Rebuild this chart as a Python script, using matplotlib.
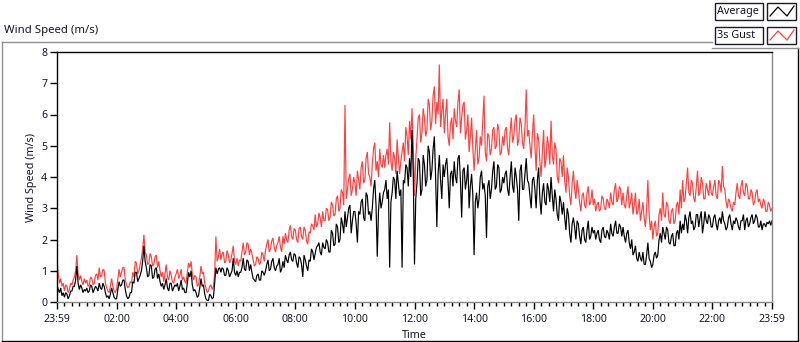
import numpy as np
import matplotlib
matplotlib.use("Agg")
import matplotlib.pyplot as plt
from matplotlib.lines import Line2D
from matplotlib.patches import Rectangle

plt.rcParams['font.family'] = ['Noto Sans', 'DejaVu Sans']

# 2.5-minute samples from 23:59 to 23:59 (next day), one row per hour
step_min = 2.5
gust = [
    1.3, 0.9, 0.6, 0.75, 0.5, 0.6, 0.35, 0.55, 0.5, 0.3, 0.4, 0.6, 0.55, 0.7, 0.8, 1.0, 1.5, 0.9, 0.7, 0.85, 0.65, 0.55, 0.75, 0.6,
    0.7, 0.5, 0.55, 0.8, 0.75, 0.55, 0.6, 0.85, 0.9, 0.7, 1.1, 0.8, 0.85, 1.05, 1.0, 0.6, 0.45, 0.35, 0.3, 0.5, 0.75, 0.5, 0.35, 0.3,
    0.4, 0.75, 1.05, 0.8, 0.95, 1.1, 1.1, 0.7, 0.55, 0.45, 0.5, 0.65, 0.6, 0.95, 0.8, 1.3, 1.25, 0.9, 1.0, 1.2, 1.4, 1.7, 2.15, 1.6,
    1.5, 1.2, 1.25, 1.55, 1.45, 1.15, 1.2, 1.45, 1.5, 1.1, 1.3, 1.0, 0.8, 0.95, 0.65, 0.9, 1.2, 0.8, 0.7, 1.0, 0.85, 0.65, 0.6, 0.8,
    0.9, 1.05, 0.75, 0.85, 1.05, 0.7, 0.8, 0.65, 0.6, 0.95, 1.25, 1.1, 1.3, 0.9, 0.7, 0.85, 0.8, 0.5, 0.55, 0.8, 1.15, 0.9, 0.95, 0.6,
    0.45, 0.3, 0.35, 0.5, 0.55, 0.4, 0.5, 0.9, 2.1, 1.3, 1.45, 1.7, 1.35, 1.55, 1.6, 1.25, 1.3, 1.65, 1.5, 1.25, 1.35, 1.55, 1.8, 1.3,
    1.2, 1.4, 1.15, 1.35, 1.3, 1.6, 1.9, 1.5, 1.6, 1.9, 1.85, 1.5, 1.7, 1.55, 1.35, 1.15, 1.2, 1.45, 1.4, 1.2, 1.25, 1.6, 1.5, 1.3,
    1.65, 1.85, 2.0, 1.6, 1.7, 1.95, 2.05, 1.75, 1.6, 1.8, 1.9, 2.1, 1.75, 1.6, 2.1, 1.85, 2.2, 2.0, 1.9, 2.3, 2.45, 2.1, 2.0, 2.35,
    2.3, 2.0, 1.9, 2.35, 2.4, 2.1, 2.0, 2.4, 2.3, 1.95, 1.85, 2.25, 2.2, 2.5, 2.45, 2.3, 2.8, 2.4, 2.5, 2.85, 2.7, 2.4, 2.9, 2.6,
    2.6, 3.0, 2.95, 2.6, 2.7, 3.2, 3.1, 2.75, 2.8, 3.3, 3.4, 2.9, 3.0, 3.6, 3.5, 3.1, 6.3, 3.3, 3.6, 3.95, 4.1, 3.4, 3.6, 4.0,
    3.8, 3.4, 4.2, 3.9, 3.6, 4.3, 4.5, 3.8, 3.9, 4.6, 4.8, 4.1, 4.0, 3.7, 4.4, 4.9, 5.1, 4.2, 4.5, 4.0, 4.9, 4.4, 4.3, 4.7,
    4.3, 4.7, 4.9, 4.4, 5.75, 4.5, 4.2, 4.8, 4.6, 4.1, 5.2, 4.6, 4.1, 4.5, 4.8, 5.1, 4.5, 5.6, 5.3, 4.7, 5.8, 5.2, 6.2, 5.0,
    3.4, 4.6, 5.2, 5.9, 6.0, 5.1, 5.4, 6.2, 5.9, 5.3, 5.5, 6.5, 6.3, 5.5, 5.8, 6.6, 6.9, 5.7, 6.4, 6.0, 7.6, 5.6, 6.1, 6.5,
    5.4, 6.0, 6.5, 5.3, 5.0, 5.7, 5.9, 5.2, 6.2, 5.8, 5.6, 6.4, 6.8, 5.4, 5.9, 6.3, 6.4, 5.2, 5.5, 6.0, 4.8, 5.3, 5.9, 4.9,
    4.2, 4.9, 5.5, 4.4, 4.6, 5.3, 5.0, 5.8, 6.6, 4.8, 4.5, 5.4, 5.3, 4.7, 4.9, 5.5, 5.6, 4.9, 5.0, 5.7, 5.5, 4.7, 4.8, 5.3,
    5.0, 5.5, 5.6, 4.9, 4.7, 5.4, 5.9, 5.1, 5.3, 5.8, 6.0, 5.0, 5.2, 5.9, 5.7, 5.1, 4.9, 5.6, 6.8, 5.3, 5.5, 5.0, 4.6, 5.4,
    6.0, 5.0, 4.2, 5.4, 5.2, 4.5, 4.0, 4.8, 5.5, 4.3, 4.6, 5.3, 5.0, 4.4, 5.8, 4.7, 4.4, 5.1, 4.9, 4.0, 3.8, 4.6, 4.5, 4.0,
    4.7, 3.9, 3.5, 4.3, 4.0, 3.4, 3.1, 3.8, 4.2, 3.6, 3.3, 3.9, 3.6, 3.2, 2.9, 3.4, 3.5, 3.1, 3.0, 3.5, 3.7, 3.1, 3.2, 3.6,
    3.1, 3.3, 2.9, 3.1, 3.2, 2.9, 3.0, 3.4, 3.3, 3.0, 2.95, 3.3, 3.2, 3.0, 3.5, 3.2, 3.1, 3.6, 3.8, 3.2, 3.3, 3.7, 3.6, 3.1,
    3.5, 3.1, 3.0, 3.4, 3.7, 3.0, 3.2, 3.5, 2.8, 3.1, 3.5, 2.8, 2.9, 3.3, 2.6, 2.9, 3.2, 2.7, 2.4, 3.0, 3.9, 2.8, 2.3, 2.6,
    2.0, 2.4, 2.6, 2.1, 2.2, 2.8, 3.0, 2.6, 3.5, 2.8, 2.7, 3.2, 3.1, 2.6, 2.5, 2.9, 3.0, 2.5, 2.6, 3.1, 3.2, 2.8, 3.6, 3.0,
    3.9, 3.2, 3.3, 3.8, 4.3, 3.5, 3.4, 3.9, 3.8, 3.3, 3.2, 3.7, 4.2, 3.4, 3.5, 4.0, 3.8, 3.3, 3.3, 3.8, 3.6, 3.4, 3.9, 3.5,
    3.4, 3.7, 3.9, 3.4, 3.3, 3.9, 3.8, 3.5, 4.35, 3.7, 3.6, 3.2, 3.0, 3.3, 3.2, 3.0, 2.9, 3.2, 3.1, 3.5, 3.8, 3.4, 3.3, 3.7,
    3.9, 3.5, 3.4, 3.8, 3.7, 3.3, 3.3, 3.6, 3.5, 3.1, 3.2, 3.5, 3.6, 3.2, 3.3, 3.1, 3.0, 3.3, 3.2, 2.9, 2.9, 3.2, 3.1, 2.9,
    3.0,
]
average = [
    0.55, 0.4, 0.3, 0.45, 0.2, 0.3, 0.15, 0.3, 0.25, 0.1, 0.2, 0.35, 0.35, 0.5, 0.5, 0.7, 1.15, 0.6, 0.4, 0.55, 0.45, 0.3, 0.4, 0.35,
    0.45, 0.3, 0.35, 0.55, 0.5, 0.3, 0.4, 0.5, 0.45, 0.35, 0.6, 0.45, 0.4, 0.6, 0.5, 0.3, 0.15, 0.2, 0.1, 0.25, 0.45, 0.3, 0.15, 0.1,
    0.1, 0.4, 0.65, 0.5, 0.55, 0.7, 0.7, 0.4, 0.2, 0.1, 0.15, 0.3, 0.3, 0.65, 0.6, 0.95, 0.95, 0.65, 0.75, 0.85, 1.0, 1.3, 1.8, 1.3,
    1.1, 0.8, 0.85, 1.2, 1.15, 0.75, 0.8, 1.05, 1.1, 0.75, 0.9, 0.65, 0.5, 0.6, 0.4, 0.55, 0.75, 0.45, 0.35, 0.6, 0.6, 0.35, 0.45, 0.55,
    0.5, 0.6, 0.35, 0.5, 0.7, 0.4, 0.45, 0.3, 0.3, 0.6, 0.95, 0.8, 1.0, 0.55, 0.35, 0.4, 0.3, 0.15, 0.2, 0.45, 0.75, 0.5, 0.55, 0.25,
    0.1, 0.05, 0.05, 0.25, 0.2, 0.1, 0.15, 0.6, 1.1, 0.9, 1.05, 1.1, 0.95, 1.1, 1.05, 0.85, 0.85, 1.1, 1.0, 0.8, 0.9, 1.0, 1.4, 0.95,
    0.85, 1.0, 0.8, 0.95, 0.95, 1.1, 1.4, 1.05, 1.0, 1.35, 1.3, 1.0, 1.2, 0.95, 0.75, 0.7, 0.65, 0.85, 0.9, 0.7, 0.7, 1.0, 0.95, 0.85,
    1.0, 1.2, 1.35, 1.0, 1.05, 1.3, 1.4, 1.1, 1.0, 1.15, 1.2, 1.4, 0.95, 1.05, 1.3, 1.1, 1.5, 1.35, 1.25, 1.5, 1.6, 1.35, 1.3, 1.55,
    1.5, 1.25, 1.1, 1.45, 1.4, 1.2, 0.8, 1.5, 1.35, 1.15, 1.0, 1.35, 1.3, 1.7, 1.6, 1.35, 1.55, 1.75, 1.8, 1.9, 1.6, 1.5, 1.9, 1.75,
    1.7, 2.0, 1.9, 1.6, 1.6, 2.3, 2.2, 1.8, 1.85, 2.5, 2.4, 1.9, 2.0, 2.7, 2.5, 2.2, 2.9, 2.4, 2.7, 3.0, 3.1, 2.2, 2.6, 2.9,
    2.9, 2.5, 1.9, 2.9, 2.8, 3.2, 3.3, 2.7, 2.6, 3.5, 3.4, 2.8, 2.9, 2.6, 3.0, 3.6, 3.9, 3.1, 1.45, 2.9, 3.5, 3.0, 3.2, 3.5,
    3.6, 3.9, 3.3, 3.6, 1.1, 3.2, 3.5, 4.0, 3.9, 3.3, 4.2, 3.8, 3.4, 3.6, 1.1, 3.9, 3.8, 4.4, 4.3, 3.7, 4.6, 4.0, 5.5, 4.1,
    1.2, 3.3, 3.8, 4.6, 4.5, 3.4, 3.6, 4.7, 4.4, 3.7, 3.9, 5.0, 4.8, 3.9, 4.2, 4.9, 5.3, 4.0, 2.4, 4.1, 4.7, 3.9, 3.3, 4.4,
    4.0, 4.4, 4.6, 3.9, 3.0, 4.1, 4.2, 3.7, 4.5, 4.0, 3.8, 4.6, 4.7, 3.9, 2.7, 4.2, 4.3, 3.6, 3.9, 4.4, 3.0, 3.7, 4.1, 3.4,
    1.5, 3.2, 3.5, 3.0, 3.3, 4.0, 4.2, 3.6, 3.8, 3.4, 2.05, 3.7, 3.9, 3.3, 3.6, 4.2, 4.5, 3.6, 3.7, 4.4, 4.3, 3.5, 3.6, 4.0,
    3.8, 4.1, 4.2, 3.6, 3.4, 4.0, 4.5, 3.7, 3.5, 4.3, 4.0, 3.6, 2.6, 4.2, 4.4, 3.6, 3.6, 4.1, 4.6, 3.9, 3.8, 3.4, 3.0, 3.9,
    4.0, 3.6, 3.0, 3.9, 4.3, 3.3, 2.8, 3.5, 3.8, 3.2, 3.1, 3.8, 3.6, 3.2, 4.0, 3.4, 2.9, 3.6, 3.3, 2.8, 2.6, 3.4, 3.2, 2.8,
    3.2, 2.7, 2.3, 3.0, 2.8, 2.2, 1.9, 2.5, 2.7, 2.4, 2.0, 2.6, 2.5, 2.1, 1.85, 2.3, 2.4, 2.0, 1.9, 2.3, 2.6, 2.0, 2.1, 2.4,
    2.2, 2.3, 2.0, 2.2, 2.3, 2.0, 1.9, 2.3, 2.4, 2.1, 2.05, 2.3, 2.2, 2.0, 2.5, 2.2, 2.1, 2.4, 2.6, 2.2, 2.2, 2.5, 2.4, 2.1,
    2.4, 2.1, 1.9, 2.2, 2.3, 1.9, 1.7, 2.0, 1.5, 1.6, 1.8, 1.4, 1.3, 1.6, 1.4, 1.3, 1.6, 1.2, 1.2, 1.5, 1.9, 1.4, 1.3, 1.1,
    1.2, 1.5, 1.6, 1.4, 1.5, 2.0, 2.2, 1.9, 2.4, 2.2, 2.0, 2.4, 2.3, 1.9, 1.85, 2.1, 2.2, 1.8, 1.8, 2.2, 2.3, 2.0, 2.6, 2.2,
    2.5, 2.3, 2.8, 2.6, 2.2, 2.7, 2.9, 2.5, 2.6, 2.3, 2.4, 2.8, 2.8, 2.4, 2.7, 2.9, 2.2, 2.5, 2.9, 2.6, 2.5, 2.8, 2.7, 2.4,
    2.4, 2.7, 2.8, 2.5, 2.3, 2.6, 2.7, 2.5, 2.9, 2.6, 2.5, 2.3, 2.4, 2.7, 2.8, 2.5, 2.3, 2.6, 2.5, 2.7, 2.6, 2.4, 2.3, 2.6,
    2.6, 2.8, 2.3, 2.6, 2.7, 2.4, 2.5, 2.7, 2.8, 2.5, 2.6, 2.8, 2.7, 2.4, 2.4, 2.6, 2.3, 2.5, 2.5, 2.4, 2.55, 2.5, 2.6, 2.45,
    2.6,
]
x_tick_labels = ["23:59", "02:00", "04:00", "06:00", "08:00", "10:00", "12:00",
                 "14:00", "16:00", "18:00", "20:00", "22:00", "23:59"]
y_ticks = [0, 1, 2, 3, 4, 5, 6, 7, 8]
series_names = ["Average", "3s Gust"]

W, H = 800, 342
TXT = '#14142e'
RED = '#ff4040'

def fx(x):
    return x / W

def fy(y):
    return 1 - y / H

fig = plt.figure(figsize=(8, 3.42), dpi=100)
fig.patch.set_facecolor('white')

ax = fig.add_axes([fx(57), fy(302), (772 - 57) / W, (302 - 52) / H])
minutes = np.arange(len(gust)) * step_min
ax.plot(minutes, gust, color=RED, lw=0.85, solid_joinstyle='miter')
ax.plot(minutes, average, color='black', lw=0.85, solid_joinstyle='miter')

ax.set_xlim(0, 1440)
ax.set_ylim(0, 8)
ax.set_xticks(np.arange(0, 1441, 120))
ax.set_xticklabels(x_tick_labels)
ax.set_xticks(np.arange(0, 1441, 15), minor=True)
ax.set_yticks(y_ticks)
ax.tick_params(axis='both', which='major', direction='out', length=5, width=1,
               color='black', labelsize=7.6, labelcolor=TXT, pad=2)
ax.tick_params(axis='x', which='major', pad=4)
ax.tick_params(axis='x', which='minor', direction='out', length=3, width=1, color='black')
ax.tick_params(axis='y', which='minor', left=False)
ax.spines['top'].set_color('black')
ax.spines['left'].set_color('black')
ax.spines['right'].set_color('#888888')
ax.spines['bottom'].set_color('#888888')
for s in ax.spines.values():
    s.set_linewidth(1)

ax.set_xlabel("Time", fontsize=7.8, color=TXT, labelpad=3)
ax.set_ylabel("Wind Speed (m/s)", fontsize=7.8, color=TXT, labelpad=3)

# chart title
fig.text(fx(4), fy(31), "Wind Speed (m/s)", fontsize=8.2, color=TXT, ha='left', va='center')

# outer frame
frame = [
    ((2, 42), (712, 42), '#909090'),
    ((2, 42), (2, 341), '#909090'),
    ((2, 341), (798, 341), 'black'),
    ((798, 48), (798, 341), 'black'),
    ((712, 48), (798, 48), '#909090'),
]
for (x0, y0), (x1, y1), c in frame:
    fig.add_artist(Line2D([fx(x0), fx(x1)], [fy(y0), fy(y1)], color=c, lw=1,
                          transform=fig.transFigure))

# legend panel
leg_rows = [(3, 'black'), (27, RED)]
for (top, col), name in zip(leg_rows, series_names):
    fig.add_artist(Rectangle((fx(715), fy(top + 17)), 48 / W, 17 / H, transform=fig.transFigure,
                             facecolor='white', edgecolor='#1a1a2a', lw=1))
    fig.text(fx(717), fy(top + 8.5), name, fontsize=7.8, color=TXT, ha='left', va='center')
    fig.add_artist(Rectangle((fx(767), fy(top + 17)), 29 / W, 17 / H, transform=fig.transFigure,
                             facecolor='white', edgecolor='#1a1a2a', lw=1))
    zx = [770, 778, 787, 794]
    zy = [top + 13, top + 4, top + 13, top + 3]
    fig.add_artist(Line2D([fx(v) for v in zx], [fy(v) for v in zy], color=col, lw=0.9,
                          transform=fig.transFigure))

fig.savefig("out.png", dpi=100, facecolor='white')
